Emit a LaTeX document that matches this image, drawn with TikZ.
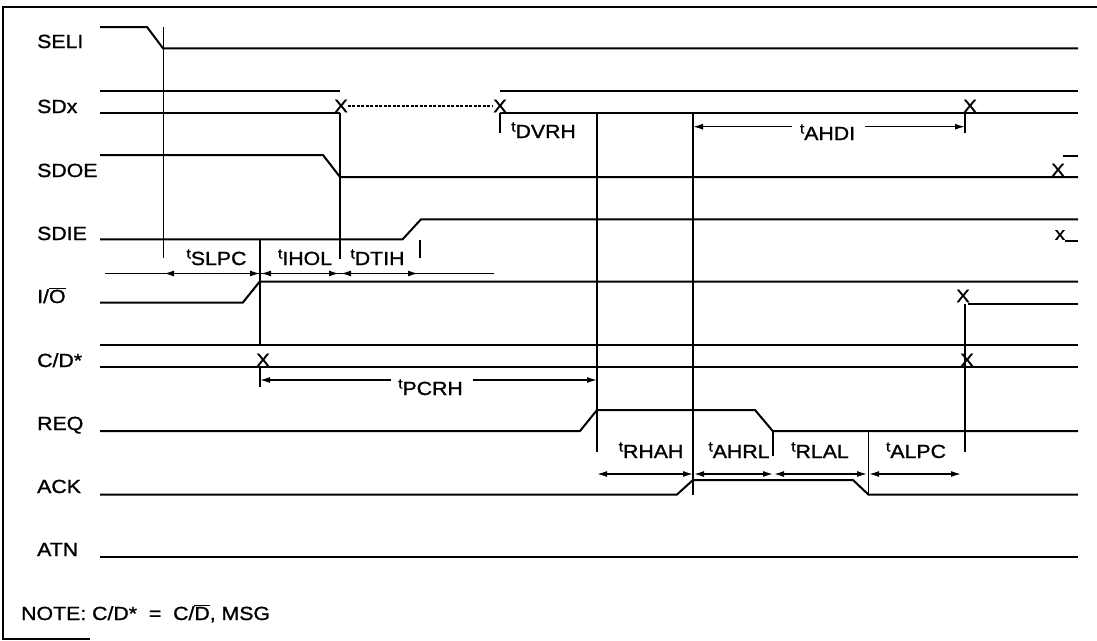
\documentclass[tikz,border=0pt]{standalone}
\usepackage{fontspec}
\setmainfont[FakeStretch=1.12,FakeBold=1.2]{Liberation Sans}
\usetikzlibrary{arrows.meta}
\newcommand{\tlab}[1]{\raisebox{6.5pt}{\fontsize{14}{14}\selectfont t}#1}
\newcommand{\ovl}[1]{$\overline{\mbox{#1}}$}
\tikzset{
  sig/.style={line width=2pt},
  vl/.style={line width=1.5pt},
  dimline/.style={line width=1.4pt},
  dimboth/.style={line width=1.4pt,{Latex[length=10pt,width=6pt]}-{Latex[length=10pt,width=6pt]}},
  dimleft/.style={line width=1.4pt,{Latex[length=10pt,width=6pt]}-},
  dimright/.style={line width=1.4pt,-{Latex[length=10pt,width=6pt]}},
  lbl/.style={font=\fontsize{19}{19}\selectfont, anchor=base west, inner sep=0pt},
  tl/.style={font=\fontsize{19}{19}\selectfont, anchor=base, inner sep=0pt},
  xm/.style={font=\fontsize{18}{18}\selectfont, inner sep=0pt},
}
\begin{document}
\begin{tikzpicture}[x=1pt,y=-1pt]
\useasboundingbox (0,0) rectangle (1097,640);
% frame
\draw[line width=1.6pt] (1097,7) -- (3,7) -- (3,639) -- (90,639);

% signal names
\node[lbl] (nseli) at (37,48) {SELI};
\node[lbl] (nsdx)  at (37,113) {SDx};
\node[lbl] (nsdoe) at (37,177) {SDOE};
\node[lbl] (nsdie) at (37,240) {SDIE};
\node[lbl] (nio)   at (37,303) {I/\ovl{O}};
\node[lbl] (ncd)   at (37,367) {C/D*};
\node[lbl] (nreq)  at (37,430) {REQ};
\node[lbl] (nack)  at (37,493) {ACK};
\node[lbl] (natn)  at (37,556) {ATN};
\node[lbl] (nnote) at (21,620) {NOTE: C/D*\ \ =\ \ C/\ovl{D}, MSG};

% SELI
\draw[sig] (100,27) -- (147,27) -- (163,48.3) -- (1078,48.3);
% SDx
\draw[sig] (100,91) -- (340,91);
\draw[sig] (100,113) -- (340,113);
\draw[sig] (500,91) -- (1078,91);
\draw[sig] (500,113) -- (1078,113);
\node[xm] (x1) at (341,106) {X};
\node[xm] (x2) at (500,106) {X};
\node[xm] (x3) at (970,106) {X};
\draw[line width=1.3pt, dash pattern=on 3pt off 1.5pt] (x1.east) -- (x2.west);
% SDOE
\draw[sig] (100,155) -- (323,155) -- (340,177) -- (1078,177);
\node[xm] (x4) at (1058,170) {X};
\draw[sig] (1063,156) -- (1078,156);
% SDIE
\draw[sig] (100,239.3) -- (402.6,239.3) -- (421,219.3) -- (1078,219.3);
\node[xm] (x5) at (1060,235) {x};
\draw[sig] (1065,240.5) -- (1078,240.5);
% I/O
\draw[sig] (100,302.7) -- (242.7,302.7) -- (259.6,281.7) -- (1078,281.7);
\node[xm] (x6) at (963,296) {X};
\draw[sig] (968,304) -- (1078,304);
% C/D*
\draw[sig] (100,345) -- (1078,345);
\draw[sig] (100,366.7) -- (1078,366.7);
\node[xm] (x7) at (263,360) {X};
\node[xm] (x8) at (967,360) {X};
% REQ
\draw[sig] (100,431) -- (580,431) -- (597,410) -- (755,410) -- (772.7,431) -- (1078,431);
% ACK
\draw[sig] (100,494.5) -- (677,494.5) -- (693,480) -- (853,480) -- (868.3,494.5) -- (1078,494.5);
% ATN
\draw[sig] (100,556.7) -- (1078,556.7);

% vertical reference lines
\draw[vl] (163.5,27) -- (163.5,258);
\draw[vl] (340,113) -- (340,259);
\draw[vl] (420,240) -- (420,258);
\draw[vl] (260,239) -- (260,345);
\draw[vl] (260,367) -- (260,387);
\draw[vl] (500,113) -- (500,133);
\draw[vl] (597,113) -- (597,452);
\draw[vl] (693,113) -- (693,495);
\draw[vl] (773,431) -- (773,456);
\draw[vl] (868.3,431) -- (868.3,495);
\draw[vl] (965,113) -- (965,133);
\draw[vl] (965,304) -- (965,452);

% dimension arrows, upper group
\draw[dimline] (105,273.5) -- (494,273.5);
\draw[dimboth] (164,273.5) -- (260,273.5);
\draw[dimboth] (261,273.5) -- (339,273.5);
\draw[dimboth] (341,273.5) -- (418,273.5);
\node[tl] (tslpc) at (216.5,265) {\tlab{SLPC}};
\node[tl] (tihol) at (305,265) {\tlab{IHOL}};
\node[tl] (tdtih) at (377.5,265) {\tlab{DTIH}};

% tDVRH
\node[lbl] (tdvrh) at (511,138) {\tlab{DVRH}};
% tAHDI
\draw[dimleft] (693,126.7) -- (792,126.7);
\draw[dimright] (865,126.7) -- (965,126.7);
\node[tl] (tahdi) at (827.5,140) {\tlab{AHDI}};
% tPCRH
\draw[dimleft] (260,380) -- (391,380);
\draw[dimright] (473,380) -- (597,380);
\node[tl] (tpcrh) at (430.5,395) {\tlab{PCRH}};

% lower group
\draw[dimboth] (597,474) -- (693,474);
\draw[dimboth] (694,474) -- (773,474);
\draw[dimboth] (774,474) -- (867,474);
\draw[dimboth] (869,474) -- (961,474);
\node[tl] (trhah) at (651,458) {\tlab{RHAH}};
\node[tl] (tahrl) at (739,458) {\tlab{AHRL}};
\node[tl] (trlal) at (820,458) {\tlab{RLAL}};
\node[tl] (talpc) at (916,458) {\tlab{ALPC}};
\end{tikzpicture}
\end{document}
